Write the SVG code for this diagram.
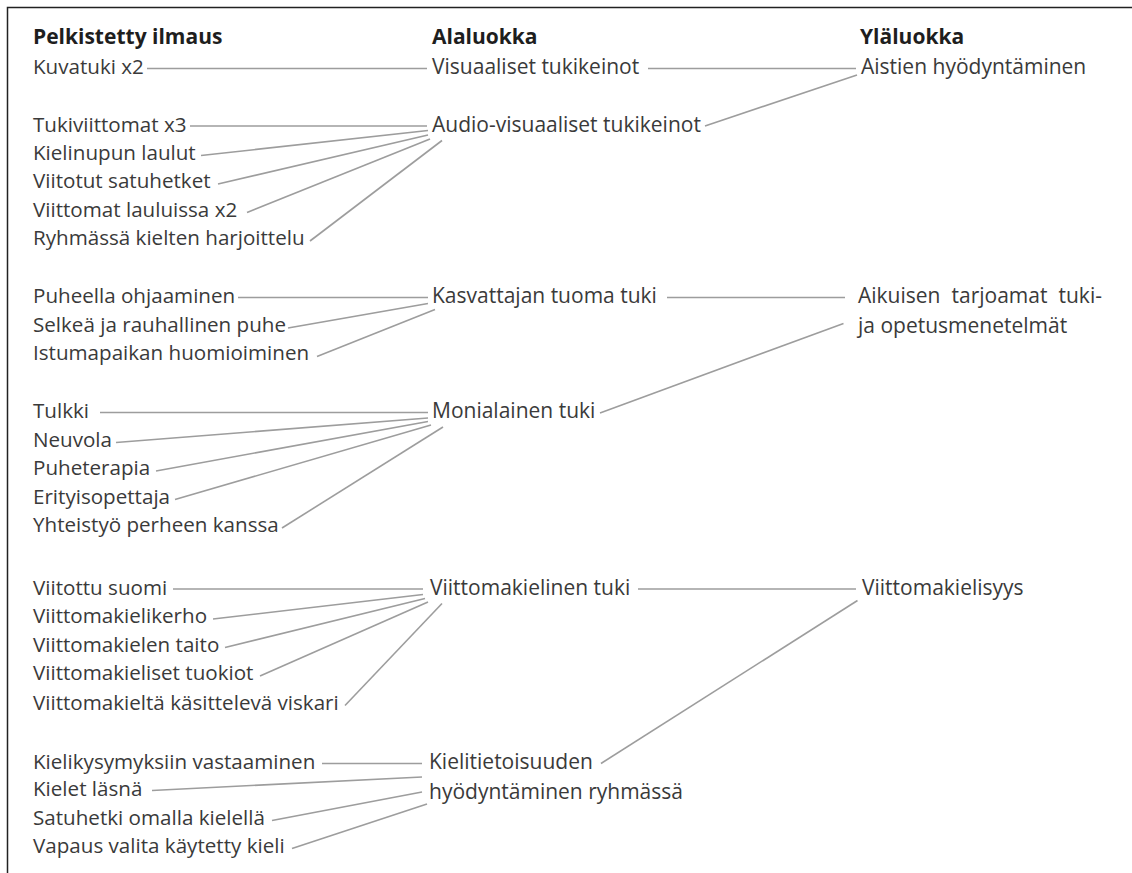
<svg xmlns="http://www.w3.org/2000/svg" width="1132" height="873" viewBox="0 0 1132 873">
<style>
text{font-family:"Open Sans","Noto Sans","Liberation Sans",sans-serif;font-size:21px;fill:#3a3a3a}
#left text{font-size:20.6px}
.h{font-weight:bold;fill:#1e1e1e}
.c line{stroke:#9d9d9d;stroke-width:1.6;fill:none}
.frame{stroke:#222;stroke-width:1.5;fill:none}
</style>
<rect width="1132" height="873" fill="#fff"/>
<path class="frame" d="M7.5 873V7.5H1132"/>
<g id="headers">
<text class="h" x="33" y="43.5">Pelkistetty ilmaus</text>
<text class="h" x="432" y="43.5">Alaluokka</text>
<text class="h" x="860" y="43.5">Yläluokka</text>
</g>
<g id="left">
<g id="n-kuvatuki"><text x="33" y="74">Kuvatuki x2</text></g>
<g id="n-tukiviittomat"><text x="33" y="131.5">Tukiviittomat x3</text></g>
<g id="n-kielinupun"><text x="33" y="159.5">Kielinupun laulut</text></g>
<g id="n-viitotut"><text x="33" y="188">Viitotut satuhetket</text></g>
<g id="n-viittomat-lauluissa"><text x="33" y="216.5">Viittomat lauluissa x2</text></g>
<g id="n-ryhmassa"><text x="33" y="245">Ryhmässä kielten harjoittelu</text></g>
<g id="n-puheella"><text x="33" y="303">Puheella ohjaaminen</text></g>
<g id="n-selkea"><text x="33" y="331.5">Selkeä ja rauhallinen puhe</text></g>
<g id="n-istumapaikan"><text x="33" y="360">Istumapaikan huomioiminen</text></g>
<g id="n-tulkki"><text x="33" y="418">Tulkki</text></g>
<g id="n-neuvola"><text x="33" y="446.5">Neuvola</text></g>
<g id="n-puheterapia"><text x="33" y="475">Puheterapia</text></g>
<g id="n-erityisopettaja"><text x="33" y="503.5">Erityisopettaja</text></g>
<g id="n-yhteistyo"><text x="33" y="532">Yhteistyö perheen kanssa</text></g>
<g id="n-viitottu-suomi"><text x="33" y="594.5">Viitottu suomi</text></g>
<g id="n-kerho"><text x="33" y="623">Viittomakielikerho</text></g>
<g id="n-taito"><text x="33" y="651.5">Viittomakielen taito</text></g>
<g id="n-tuokiot"><text x="33" y="680">Viittomakieliset tuokiot</text></g>
<g id="n-viskari"><text x="33" y="710">Viittomakieltä käsittelevä viskari</text></g>
<g id="n-kielikysymyksiin"><text x="33" y="769">Kielikysymyksiin vastaaminen</text></g>
<g id="n-kielet-lasna"><text x="33" y="796">Kielet läsnä</text></g>
<g id="n-satuhetki"><text x="33" y="824.5">Satuhetki omalla kielellä</text></g>
<g id="n-vapaus"><text x="33" y="853">Vapaus valita käytetty kieli</text></g>
</g>
<g id="middle">
<g id="m-visuaaliset"><text x="432" y="74">Visuaaliset tukikeinot</text></g>
<g id="m-audio"><text x="432" y="131.5">Audio-visuaaliset tukikeinot</text></g>
<g id="m-kasvattajan"><text x="432" y="303">Kasvattajan tuoma tuki</text></g>
<g id="m-monialainen"><text x="432" y="418">Monialainen tuki</text></g>
<g id="m-viittomakielinen"><text x="430" y="594.5">Viittomakielinen tuki</text></g>
<g id="m-kielitietoisuus"><text x="429" y="769">Kielitietoisuuden</text><text x="429" y="799">hyödyntäminen ryhmässä</text></g>
</g>
<g id="right">
<g id="r-aistien"><text x="861" y="74">Aistien hyödyntäminen</text></g>
<g id="r-aikuisen"><text x="858" y="303">Aikuisen</text><text x="951.5" y="303">tarjoamat</text><text x="1058.5" y="303">tuki-</text><text x="858" y="333">ja opetusmenetelmät</text></g>
<g id="r-viittomakielisyys"><text x="862" y="594.5">Viittomakielisyys</text></g>
</g>
<g id="connectors" class="c">
<line x1="147" y1="68.5" x2="427" y2="68.5"/>
<line x1="190" y1="126" x2="427" y2="126"/>
<line x1="201" y1="155.5" x2="428" y2="130.5"/>
<line x1="218" y1="184" x2="428" y2="135"/>
<line x1="247" y1="212.5" x2="430" y2="139"/>
<line x1="310" y1="241" x2="442" y2="140.5"/>
<line x1="238" y1="297.5" x2="428" y2="297.5"/>
<line x1="288" y1="328" x2="428" y2="303.5"/>
<line x1="317" y1="356.5" x2="435" y2="309.5"/>
<line x1="100" y1="412.5" x2="428" y2="412.5"/>
<line x1="116" y1="442.5" x2="428" y2="418"/>
<line x1="156" y1="471" x2="428" y2="421.5"/>
<line x1="175" y1="499.5" x2="431" y2="425"/>
<line x1="282" y1="528" x2="443" y2="427"/>
<line x1="173" y1="589" x2="423" y2="589"/>
<line x1="213" y1="619" x2="423" y2="594.5"/>
<line x1="225" y1="647.5" x2="425" y2="598.5"/>
<line x1="260" y1="676" x2="428" y2="602"/>
<line x1="345" y1="705.5" x2="442" y2="603.5"/>
<line x1="322" y1="763.5" x2="422" y2="763.5"/>
<line x1="152" y1="790.5" x2="422" y2="777"/>
<line x1="272" y1="820.5" x2="422" y2="792"/>
<line x1="292" y1="848.5" x2="427" y2="804"/>
<line x1="648" y1="68.5" x2="856" y2="68.5"/>
<line x1="705" y1="126" x2="857" y2="75"/>
<line x1="667" y1="297.5" x2="845" y2="297.5"/>
<line x1="600" y1="413" x2="843.5" y2="323.5"/>
<line x1="638" y1="589" x2="856" y2="589"/>
<line x1="601" y1="763.5" x2="857.5" y2="600.5"/>
</g>
</svg>
